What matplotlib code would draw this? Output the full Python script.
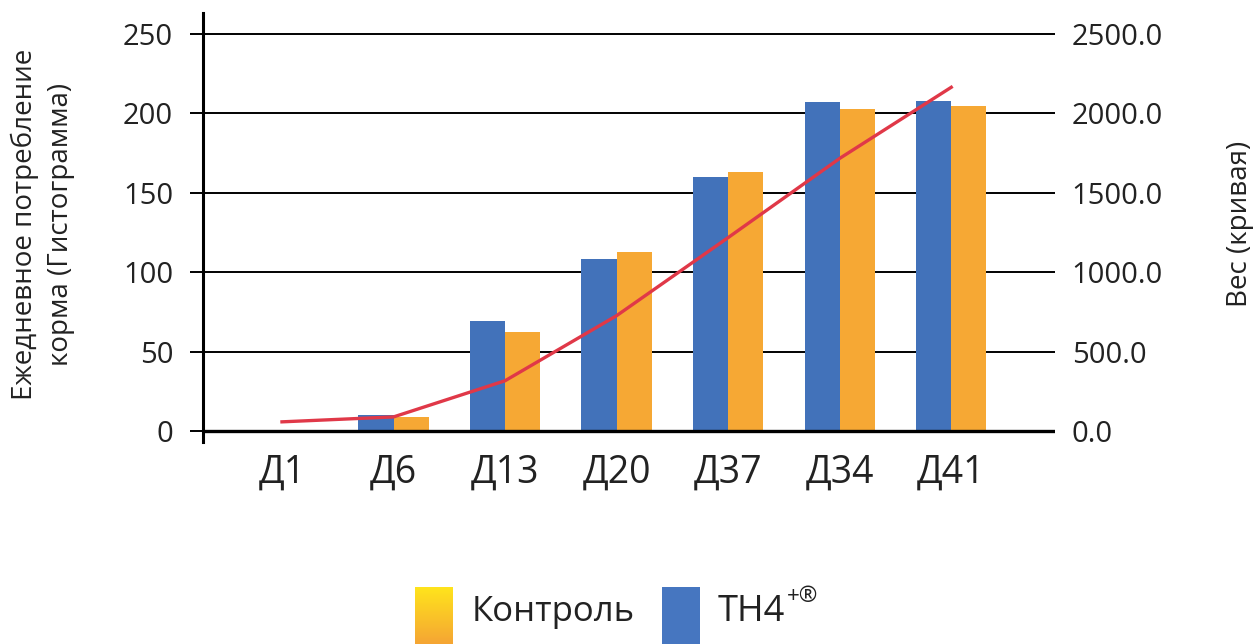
import numpy as np
import matplotlib
matplotlib.use("Agg")
import matplotlib.pyplot as plt

plt.rcParams['font.family'] = ['Open Sans', 'DejaVu Sans']

days = ['Д1', 'Д6', 'Д13', 'Д20', 'Д37', 'Д34', 'Д41']
feed_th4 = [0, 10, 69, 108, 160, 207, 208]
feed_control = [0, 9, 62, 113, 163, 203, 205]
weight = [57, 88, 316, 726, 1218, 1717, 2165]

left_ticks = [0, 50, 100, 150, 200, 250]
right_ticks = [0, 500, 1000, 1500, 2000, 2500]

blue = '#4272ba'
orange = '#f6a834'
red = '#e03848'
text_col = '#222222'

fig = plt.figure(figsize=(12.57, 6.44), dpi=100)
W, H = 1257, 644

def px_axes(x0, y0, x1, y1):
    return fig.add_axes([x0 / W, 1 - y1 / H, (x1 - x0) / W, (y1 - y0) / H])

ax = px_axes(203, 13, 1055, 442)
x = np.arange(len(days))
bw = 0.315

ax.bar(x - bw / 2, feed_th4, bw, color=blue, linewidth=0, zorder=2)
ax.bar(x + bw / 2, feed_control, bw, color=orange, linewidth=0, zorder=2)

ax.set_xlim(-0.708, 6.93)
ax.set_ylim(-7, 263.3)
ax.set_yticks(left_ticks)
ax.set_yticklabels([str(v) for v in left_ticks], fontsize=21, color=text_col)
ax.set_xticks(x)
ax.set_xticklabels(days, fontsize=27, color=text_col)
ax.tick_params(axis='x', length=0, pad=8)
ax.tick_params(axis='y', direction='out', length=9.5, width=1.4, pad=12, color='black')

for s in ['top', 'right', 'bottom']:
    ax.spines[s].set_visible(False)
ax.spines['left'].set_linewidth(2.2)

ax.set_axisbelow(True)
ax.yaxis.grid(True, color='black', linewidth=1.4)
ax.axhline(0, color='black', linewidth=2.4, zorder=3)

ax2 = ax.twinx()
ax2.set_ylim(-70, 2633)
ax2.set_yticks(right_ticks)
ax2.set_yticklabels([f'{v:.1f}' for v in right_ticks], fontsize=21, color=text_col)
ax2.tick_params(axis='y', length=0, pad=12)
for s in ax2.spines.values():
    s.set_visible(False)
ax2.plot(x, weight, color=red, linewidth=2.4, zorder=5)

# axis titles
fig.text(43 / W, 1 - 224 / H, 'Ежедневное потребление\nкорма (Гистограмма)',
         rotation=90, ha='center', va='center', fontsize=20, color=text_col,
         multialignment='center', linespacing=1.35)
fig.text(1240 / W, 1 - 224 / H, 'Вес (кривая)', rotation=90, ha='center',
         va='center', fontsize=20, color=text_col)

# legend: gradient swatch for control, flat swatch for TH4
grad = np.linspace(0, 1, 100).reshape(-1, 1)
yel = np.array(matplotlib.colors.to_rgb('#ffe41c'))
org = np.array(matplotlib.colors.to_rgb('#f5a534'))
img = yel[None, None, :] * (1 - grad[:, :, None]) + org[None, None, :] * grad[:, :, None]
sw1 = px_axes(415, 587, 453, 644)
sw1.imshow(img, aspect='auto', extent=[0, 1, 0, 1])
sw1.axis('off')
sw2 = px_axes(662, 587, 700, 644)
sw2.add_patch(plt.Rectangle((0, 0), 1, 1, color='#4676c0'))
sw2.set_xlim(0, 1)
sw2.set_ylim(0, 1)
sw2.axis('off')

fig.text(472 / W, 1 - 612 / H, 'Контроль', ha='left', va='center',
         fontsize=25, color=text_col)
t = fig.text(718 / W, 1 - 612 / H, 'TH4', ha='left', va='center',
             fontsize=26, color=text_col)
fig.canvas.draw()
bb = t.get_window_extent()
fig.text(bb.x1 / W + 0.001, 1 - 597 / H, '+®', ha='left', va='center',
         fontsize=16, color=text_col)

fig.savefig('out.png', dpi=100)
